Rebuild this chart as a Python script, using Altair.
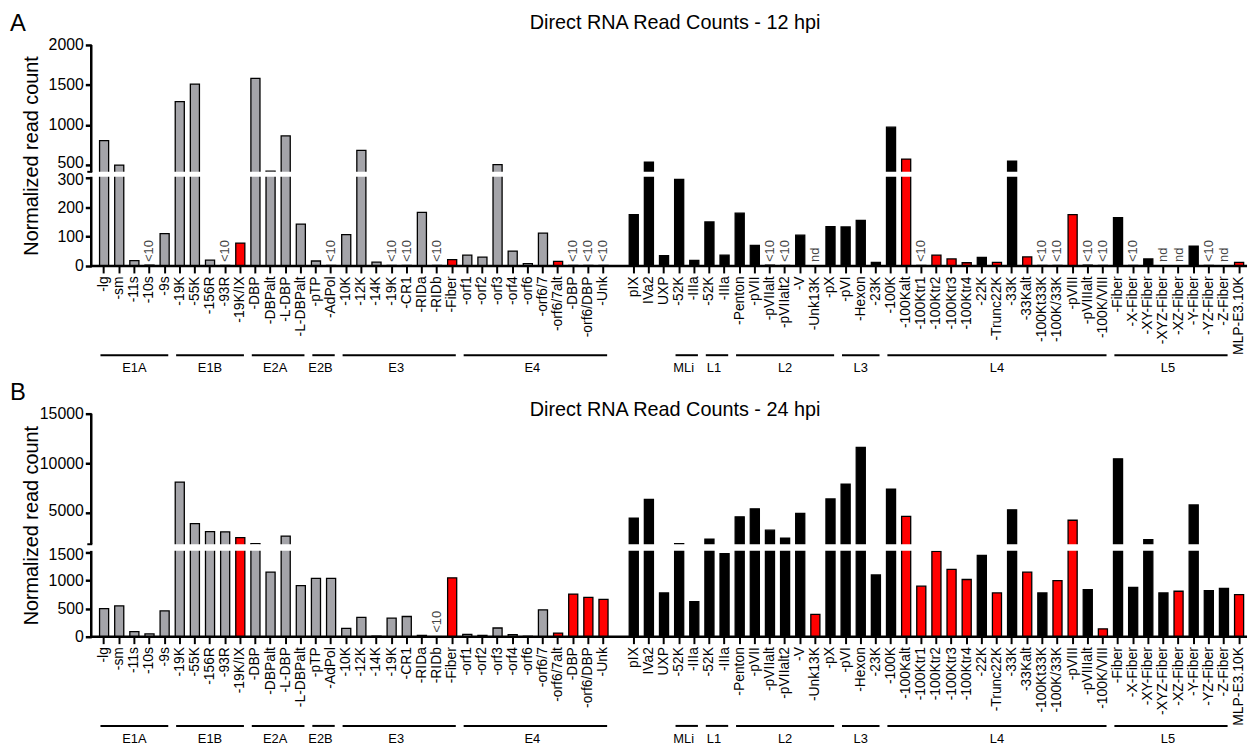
import altair as alt
import pandas as pd

FONT = "Liberation Sans"
GRAY = "#a4a4a9"
RED = "#ff0000"

# ---------------- categories ----------------
early_labels = ["-lg", "-sm", "-11s", "-10s", "-9s",
                "-19K", "-55K", "-156R", "-93R", "-19K/IX",
                "-DBP", "-DBPalt", "-L-DBP", "-L-DBPalt",
                "-pTP", "-AdPol",
                "-10K", "-12K", "-14K", "-19K", "-CR1", "-RIDa", "-RIDb", "-Fiber",
                "-orf1", "-orf2", "-orf3", "-orf4", "-orf6", "-orf6/7", "-orf6/7alt", "-DBP", "-orf6/DBP", "-Unk"]
late_labels = ["pIX", "IVa2", "UXP",
               "-52K", "-IIIa",
               "-52K", "-IIIa",
               "-Penton", "-pVII", "-pVIIalt", "-pVIIalt2", "-V", "-Unk13K", "-pX",
               "-pVI", "-Hexon", "-23K",
               "-100K", "-100Kalt", "-100Ktr1", "-100Ktr2", "-100Ktr3", "-100Ktr4", "-22K", "-Trunc22K",
               "-33K", "-33Kalt", "-100Kt33K", "-100K/33K", "-pVIII", "-pVIIIalt", "-100K/VIII",
               "-Fiber", "-X-Fiber", "-XY-Fiber", "-XYZ-Fiber", "-XZ-Fiber", "-Y-Fiber", "-YZ-Fiber", "-Z-Fiber",
               "MLP-E3.10K"]

early_groups = ["E1A", "E1B", "E2A", "E2B", "E3", "E4"]
early_group_sizes = [5, 5, 4, 2, 8, 10]
late_groups = ["", "MLi", "L1", "L2", "L3", "L4", "L5", ""]
late_group_sizes = [3, 2, 2, 7, 3, 15, 8, 1]

# g = early (gray), k = late (black), r = red
early_kind = ["g", "g", "g", "g", "g", "g", "g", "g", "g", "r",
              "g", "g", "g", "g", "g", "g", "g", "g", "g", "g",
              "g", "g", "g", "r", "g", "g", "g", "g", "g", "g",
              "r", "r", "r", "r"]
late_kind = ["k", "k", "k", "k", "k", "k", "k", "k", "k", "k",
             "k", "k", "r", "k", "k", "k", "k", "k", "r", "r",
             "r", "r", "r", "k", "r", "k", "r", "k", "r", "r",
             "k", "r", "k", "k", "k", "k", "r", "k", "k", "k",
             "r"]

# ---------------- values ----------------
a_early = [800, 495, 18, 3, 110,
           1290, 1510, 20, 2, 78,
           1580, 420, 860, 143,
           17, 2,
           107, 680, 13, 2, 2, 183, 2, 22,
           37, 30, 500, 51, 8, 112, 16, 2, 2, 2]
a_late = [175, 530, 35,
          295, 19,
          150, 37,
          180, 70, 3, 2, 105, 0, 134,
          133, 155, 12,
          970, 570, 2, 37, 24, 11, 29, 12, 545, 31, 2, 2, 175, 3, 2,
          165, 2, 24, 0, 0, 68, 2, 0,
          12]
b_early = [500, 550, 90, 50, 460,
           8100, 3900, 3100, 3080, 2500,
           1900, 1150, 2650, 910,
           1040, 1040,
           150, 345, 10, 330, 360, 25, 2, 1050,
           40, 25, 155, 35, 8, 480, 65, 760, 700, 665]
b_late = [4450, 6350, 780,
          1880, 625,
          2350, 1480,
          4600, 5400, 3250, 2450, 4950, 400, 6400,
          7900, 11600, 1100,
          7400, 4650, 900, 1520, 1200, 1020, 1450, 780, 5300, 1150, 780, 1000, 4250, 840, 140,
          10450, 880, 2300, 780, 810, 5800, 820, 860,
          750]

a_early_note = ["", "", "", "<10", "", "", "", "", "<10", "",
                "", "", "", "", "", "<10", "", "", "", "<10",
                "<10", "", "<10", "", "", "", "", "", "", "",
                "", "<10", "<10", "<10"]
a_late_note = ["", "", "", "", "", "", "", "", "", "<10",
               "<10", "", "nd", "", "", "", "", "", "", "<10",
               "", "", "", "", "", "", "", "<10", "<10", "",
               "<10", "<10", "", "<10", "", "nd", "nd", "", "<10", "nd",
               ""]
b_early_note = [""] * 22 + ["<10"] + [""] * 11
b_late_note = [""] * 41

a_ticks = [0, 100, 200, 300, 500, 1000, 1500, 2000]
b_ticks = [0, 500, 1000, 1500, 5000, 10000, 15000]
a_domain = [0, 304, 410, 2000]
b_domain = [0, 1530, 1830, 15000]

# ---------------- layout ----------------
W = 1166
HA = 223
HB = 225
a_range = [HA, HA - 90, HA - 95, 0]
b_range = [HB, HB - 86.6, HB - 93.3, 0]
AXW = 2.5

labels = early_labels + late_labels
keys = [f"{i}|{lab}" for i, lab in enumerate(labels)]
kinds = early_kind + late_kind
domain = keys[:len(early_labels)] + ["gap"] + keys[len(early_labels):]

grow = []
for names, sizes, off in [(early_groups, early_group_sizes, 0),
                          (late_groups, late_group_sizes, len(early_labels))]:
    p = off
    for nm, sz in zip(names, sizes):
        if nm:
            grow.append({"name": nm, "start": keys[p], "end": keys[p + sz - 1],
                         "mid": keys[p + (sz - 1) // 2], "even": sz % 2 == 0})
        p += sz
gdf = pd.DataFrame(grow)

xs = alt.Scale(domain=domain, paddingInner=0.4, paddingOuter=0.386, align=0.71)

X_AXIS = alt.Axis(values=[k for k in domain if k != "gap"],
                  labelExpr="split(datum.label, '|')[1]",
                  labelAngle=270, labelAlign="right", labelBaseline="middle",
                  labelFontSize=14, labelFont=FONT, labelColor="black",
                  labelPadding=3, tickSize=7, tickWidth=2, tickColor="black",
                  domain=False, labelOverlap=False, zindex=1,
                  labelBound=False, labelLimit=300, grid=False, title=None)


def y_axis(ticks, H, lo_tick, hi_tick):
    return alt.Axis(values=ticks, format="d", title="Normalized read count",
                    titleFontSize=20, titleFontWeight="normal", titleFont=FONT,
                    titleColor="black", titleAngle=270, titleX=-60, titleY=H / 2,
                    titleAlign="center", titleBaseline="middle",
                    labelFontSize=16, labelFont=FONT, labelColor="black",
                    labelOffset={"condition": [{"test": f"datum.value == {hi_tick}", "value": -2},
                                               {"test": f"datum.value == {lo_tick}", "value": 2}],
                                 "value": 0},
                    labelPadding=2, tickSize=6, tickWidth=2.5, tickColor="black",
                    domain=False, grid=False, zindex=1,
                    labelOverlap=False, labelFlush=False)


def panel(vals, notes, title, letter, ticks, ydom, yrng, H, title_y, letter_y, lo_tick, hi_tick):
    df = pd.DataFrame({"key": keys, "value": vals, "kind": kinds, "note": notes})
    ys = alt.Scale(domain=ydom, range=yrng, nice=False, zero=False)
    yax = y_axis(ticks, H, lo_tick, hi_tick)
    base = alt.Chart(df)
    bars = base.mark_bar(stroke="black", strokeWidth=1.3).encode(
        x=alt.X("key:N", scale=xs, axis=X_AXIS, title=None),
        y=alt.Y("value:Q", scale=ys, axis=yax, title="Normalized read count"),
        color=alt.Color("kind:N", scale=alt.Scale(domain=["g", "k", "r"], range=[GRAY, "black", RED]),
                        legend=None),
    )
    bdf = pd.DataFrame({"lo": [ydom[1]], "hi": [ydom[2]]})
    brk = alt.Chart(bdf).mark_rect(color="white").encode(
        x=alt.value(-14), x2=alt.value(W),
        y=alt.Y("lo:Q", scale=ys, axis=yax, title="Normalized read count"), y2="hi:Q")
    # y axis line in two segments (broken axis)
    sdf = pd.DataFrame({"y0": [ydom[0], ydom[2]], "y1": [ydom[1], ydom[3]]})
    yline = alt.Chart(sdf).mark_rule(stroke="black", strokeWidth=AXW).encode(
        x=alt.value(0),
        y=alt.Y("y0:Q", scale=ys, axis=yax, title="Normalized read count"), y2="y1:Q")
    cap = alt.Chart(bdf).mark_rule(stroke="black", strokeWidth=2).encode(
        x=alt.value(-4), x2=alt.value(1),
        y=alt.Y("hi:Q", scale=ys, axis=yax, title="Normalized read count"))
    xline = alt.Chart(gdf.head(1)).mark_rule(stroke="black", strokeWidth=AXW).encode(
        x=alt.value(-1), x2=alt.value(W), y=alt.value(H))
    note_layer = base.transform_filter("datum.note != ''").mark_text(
        angle=270, align="left", baseline="middle", fontSize=13, font=FONT, color="#444444").encode(
        x=alt.X("key:N", scale=xs, axis=X_AXIS, title=None), y=alt.value(H - 4), text="note:N")
    rules = alt.Chart(gdf).mark_rule(stroke="black", strokeWidth=2).encode(
        x=alt.X("start:N", scale=xs, axis=X_AXIS, title=None, bandPosition=0.1),
        x2=alt.X2("end:N", bandPosition=0.9),
        y=alt.value(H + 90))
    gtext_odd = alt.Chart(gdf).transform_filter("!datum.even").mark_text(
        fontSize=13, font=FONT, color="black", baseline="middle").encode(
        x=alt.X("mid:N", scale=xs, axis=X_AXIS, title=None, bandPosition=0.5),
        y=alt.value(H + 103), text="name:N")
    gtext_even = alt.Chart(gdf).transform_filter("datum.even").mark_text(
        fontSize=13, font=FONT, color="black", baseline="middle").encode(
        x=alt.X("mid:N", scale=xs, axis=X_AXIS, title=None, bandPosition=1.0),
        y=alt.value(H + 103), text="name:N")
    ttl = alt.Chart(pd.DataFrame({"t": [title]})).mark_text(
        fontSize=20, font=FONT, color="black", baseline="middle").encode(
        x=alt.value(W / 2 + 6), y=alt.value(title_y), text="t:N")
    let = alt.Chart(pd.DataFrame({"t": [letter]})).mark_text(
        fontSize=24, font=FONT, color="black", baseline="middle").encode(
        x=alt.value(-74), y=alt.value(letter_y), text="t:N")
    return alt.layer(bars, brk, yline, cap, xline, note_layer, rules, gtext_odd, gtext_even,
                     ttl, let).properties(width=W, height=H)


A = panel(a_early + a_late, a_early_note + a_late_note, "Direct RNA Read Counts - 12 hpi", "A",
          a_ticks, a_domain, a_range, HA, -22, -21, 300, 500)
B = panel(b_early + b_late, b_early_note + b_late_note, "Direct RNA Read Counts - 24 hpi", "B",
          b_ticks, b_domain, b_range, HB, -4, -21, 1500, 5000)

chart = alt.vconcat(A, B, spacing=6).properties(
    padding={"left": 1, "top": 1, "right": 0, "bottom": 0}
).configure_view(stroke=None)

chart.save("out.html", embed_options={"renderer": "svg", "actions": False})
